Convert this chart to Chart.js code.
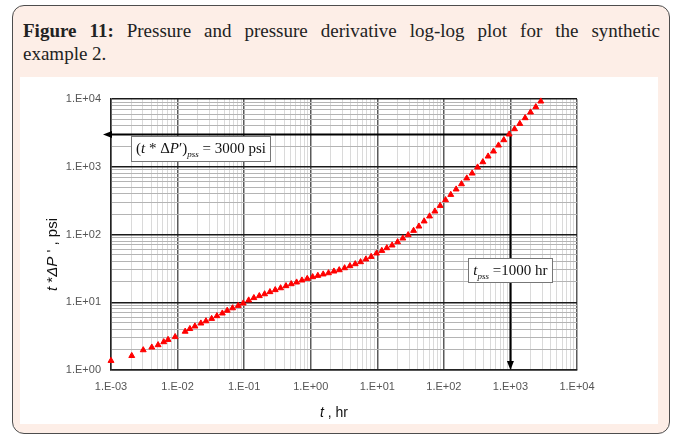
<!DOCTYPE html>
<html><head><meta charset="utf-8">
<script src="https://cdn.jsdelivr.net/npm/chart.js@4/dist/chart.umd.min.js"></script>
<style>
html,body{margin:0;padding:0;background:#fff;}
body{width:677px;height:438px;position:relative;overflow:hidden;}
#card{position:absolute;left:12px;top:5px;width:658px;height:429px;box-sizing:border-box;border:1.5px solid #4d4d4d;border-radius:12px;background:#fdeee7;}
#title{position:absolute;left:23px;top:19px;width:637px;font-family:"Liberation Serif","Times New Roman",serif;font-size:19px;line-height:23px;color:#222;}
#l1{text-align:justify;text-align-last:justify;}
#panel{position:absolute;left:20px;top:77px;width:638px;height:347px;background:#fff;}
canvas{display:block;}
</style></head>
<body>
<div id="card"></div>
<div id="title"><div id="l1"><b>Figure 11:</b> Pressure and pressure derivative log-log plot for the synthetic</div><div>example 2.</div></div>
<div id="panel"><canvas id="c" width="638" height="347" style="width:638px;height:347px"></canvas></div>
<script>
// time, hr
const tValues = [0.00100, 0.00205, 0.00305, 0.0041, 0.0051, 0.0062, 0.0072, 0.0092, 0.0130, 0.0153, 0.0182, 0.0224, 0.0267, 0.0325, 0.0390, 0.0470, 0.0557, 0.0670, 0.0815, 0.0968,
 0.117, 0.140, 0.169, 0.203, 0.244, 0.293, 0.353, 0.425, 0.510, 0.614, 0.738, 0.887, 1.07, 1.28, 1.54, 1.85, 2.23, 2.68, 3.23, 3.88, 4.66, 5.61, 6.74, 8.10,
 9.75, 11.7, 13.9, 16.7, 20.2, 24.2, 29.1, 35.1, 42.2, 50.6, 61.0, 73.3, 88.0, 106, 127, 153, 184, 221, 266, 321, 385, 462, 557,
 662, 796, 957, 1153, 1384, 1663, 2004, 2406, 2858];
// t*dP', psi
const derivValues = [1.37, 1.62, 1.97, 2.16, 2.34, 2.59, 2.80, 3.08, 3.70, 4.05, 4.42, 4.89, 5.27, 5.72, 6.27, 6.87, 7.55, 8.20, 8.90, 9.65,
 10.7, 11.6, 12.4, 13.2, 14.2, 15.2, 16.2, 17.4, 18.6, 19.7, 21.1, 22.3, 23.6, 24.7, 25.9, 27.0, 28.6, 29.9, 32.0, 34.3, 36.7, 39.3, 43.1, 47.0,
 52.8, 57.7, 63.2, 69.3, 77.5, 87.9, 98.4, 114, 132, 157, 186, 220, 266, 323, 387, 465, 556, 676, 800, 982, 1175, 1426, 1690,
 2073, 2483, 3013, 3606, 4318, 5245, 6367, 7621, 9248];
const xDecades = [1e-3, 1e-2, 1e-1, 1, 10, 100, 1000, 10000];
const xTickLabels = ['1.E-03', '1.E-02', '1.E-01', '1.E+00', '1.E+01', '1.E+02', '1.E+03', '1.E+04'];
const yDecades = [1, 10, 100, 1000, 10000];
const yTickLabels = ['1.E+00', '1.E+01', '1.E+02', '1.E+03', '1.E+04'];
const pssDerivValue = 3000;   // psi
const tPssValue = 1000;       // hr
const box1AnchorT = 0.002;
const box2AnchorV = 45;

function logTicks(decades) {
  const out = [];
  for (let i = 0; i < decades.length; i++) {
    const d = decades[i];
    out.push({ value: d, major: true });
    if (i < decades.length - 1) {
      for (let m = 2; m <= 9; m++) out.push({ value: +(d * m).toPrecision(4), major: false });
    }
  }
  return out;
}
function labelFor(decades, labels, v) {
  const k = decades.findIndex(d => Math.abs(d - v) / d < 1e-6);
  return k >= 0 ? labels[k] : '';
}
function isMajor(decades, v) { return decades.some(d => Math.abs(d - v) / d < 1e-6); }

const SERIF = '"Liberation Serif","Times New Roman",serif';
const SANS = '"Liberation Sans",Arial,sans-serif';

function drawRich(ctx, segs, x, y, align) {
  let total = 0;
  segs.forEach(s => { ctx.font = s.font; s.w = ctx.measureText(s.text).width; total += s.w; });
  let cx = align === 'center' ? x - total / 2 : x;
  segs.forEach(s => { ctx.font = s.font; ctx.fillText(s.text, cx, y + (s.dy || 0)); cx += s.w; });
  return total;
}
function richWidth(ctx, segs) {
  let total = 0;
  segs.forEach(s => { ctx.font = s.font; total += ctx.measureText(s.text).width; });
  return total;
}

const annot = {
  id: 'annot',
  beforeDatasetsDraw(chart) {
    const ctx = chart.ctx, xs = chart.scales.x, ys = chart.scales.y, ca = chart.chartArea;
    const xp = xs.getPixelForValue(tPssValue), yp = ys.getPixelForValue(pssDerivValue);
    ctx.save();
    ctx.strokeStyle = '#000'; ctx.fillStyle = '#000'; ctx.lineWidth = 2;
    ctx.beginPath(); ctx.moveTo(xp, yp); ctx.lineTo(ca.left - 1, yp); ctx.stroke();
    ctx.beginPath(); ctx.moveTo(ca.left - 8, yp); ctx.lineTo(ca.left + 1, yp - 3.5); ctx.lineTo(ca.left + 1, yp + 3.5); ctx.closePath(); ctx.fill();
    ctx.beginPath(); ctx.moveTo(xp, yp); ctx.lineTo(xp, ca.bottom - 7); ctx.stroke();
    ctx.beginPath(); ctx.moveTo(xp, ca.bottom); ctx.lineTo(xp - 3.5, ca.bottom - 9); ctx.lineTo(xp + 3.5, ca.bottom - 9); ctx.closePath(); ctx.fill();
    ctx.restore();
  },
  afterDatasetsDraw(chart) {
    const ctx = chart.ctx, xs = chart.scales.x, ys = chart.scales.y, ca = chart.chartArea;
    ctx.save();
    ctx.textBaseline = 'alphabetic';
    // box 1
    const seg1 = [
      { text: '(', font: '15px ' + SERIF },
      { text: 't', font: 'italic 15px ' + SERIF },
      { text: ' * \u0394', font: '15px ' + SERIF },
      { text: 'P', font: 'italic 15px ' + SERIF },
      { text: '\u2032)', font: '15px ' + SERIF },
      { text: 'pss', font: 'italic 9px ' + SERIF, dy: 4 },
      { text: ' = 3000 psi', font: '15px ' + SERIF }
    ];
    const w1 = richWidth(ctx, seg1) + 9;
    const b1x = xs.getPixelForValue(box1AnchorT), b1y = ys.getPixelForValue(pssDerivValue) + 2;
    ctx.fillStyle = '#fff'; ctx.fillRect(b1x, b1y, w1, 25);
    ctx.strokeStyle = '#777'; ctx.lineWidth = 1; ctx.strokeRect(Math.round(b1x) + 0.5, Math.round(b1y) + 0.5, Math.round(w1), 25);
    ctx.fillStyle = '#111';
    drawRich(ctx, seg1, b1x + 5, b1y + 17, 'left');
    // box 2
    const seg2 = [
      { text: 't', font: 'italic 15px ' + SERIF },
      { text: 'pss', font: 'italic 9px ' + SERIF, dy: 4 },
      { text: ' =1000 hr', font: '15px ' + SERIF }
    ];
    const w2 = richWidth(ctx, seg2) + 10;
    const cx2 = xs.getPixelForValue(tPssValue), b2y = ys.getPixelForValue(box2AnchorV);
    const b2x = cx2 - w2 / 2;
    ctx.fillStyle = '#fff'; ctx.fillRect(b2x, b2y, w2, 24);
    ctx.strokeStyle = '#777'; ctx.strokeRect(Math.round(b2x) + 0.5, Math.round(b2y) + 0.5, Math.round(w2), 24);
    ctx.fillStyle = '#111';
    drawRich(ctx, seg2, b2x + 5, b2y + 17, 'left');
    // axis titles
    ctx.fillStyle = '#111';
    drawRich(ctx, [
      { text: 't', font: 'italic 14px ' + SANS },
      { text: ' , hr', font: '14px ' + SANS }
    ], (ca.left + ca.right) / 2 - 10, ca.bottom + 47, 'center');
    ctx.save();
    ctx.translate(37, (ca.top + ca.bottom) / 2 + 20);
    ctx.rotate(-Math.PI / 2);
    drawRich(ctx, [
      { text: 't', font: 'italic 15px ' + SANS },
      { text: ' *', font: '15px ' + SANS },
      { text: '\u0394P', font: 'italic 15px ' + SANS },
      { text: " ' , psi", font: '15px ' + SANS }
    ], 0, 0, 'center');
    ctx.restore();
    ctx.restore();
  }
};

new Chart(document.getElementById('c'), {
  type: 'scatter',
  data: {
    datasets: [{
      data: tValues.map((t, i) => ({ x: t, y: derivValues[i] })),
      pointStyle: 'triangle',
      pointRadius: 3.4,
      pointBackgroundColor: '#ff0000',
      pointBorderColor: '#ff0000',
      pointBorderWidth: 1,
      showLine: false,
      clip: 6
    }]
  },
  options: {
    responsive: false,
    animation: false,
    devicePixelRatio: 1,
    layout: { padding: { left: 0, top: 22, right: 81, bottom: 0 } },
    plugins: { legend: { display: false }, tooltip: { enabled: false } },
    scales: {
      x: {
        type: 'logarithmic', min: 1e-3, max: 1e4,
        afterBuildTicks: s => { s.ticks = logTicks(xDecades); },
        afterFit: s => { s.height = 54; },
        ticks: {
          autoSkip: false, maxRotation: 0, padding: 10,
          color: '#555', font: { family: SANS, size: 11 },
          callback: v => labelFor(xDecades, xTickLabels, v)
        },
        grid: {
          drawTicks: false,
          color: c => isMajor(xDecades, c.tick.value) ? '#5a5a5a' : '#dadada',
          lineWidth: c => isMajor(xDecades, c.tick.value) ? 1.5 : 1
        },
        border: { display: true, color: '#222', width: 1.5 }
      },
      y: {
        type: 'logarithmic', min: 1, max: 10000,
        afterBuildTicks: s => { s.ticks = logTicks(yDecades); },
        afterFit: s => { s.width = 91; },
        ticks: {
          autoSkip: false, padding: 10,
          color: '#555', font: { family: SANS, size: 11 },
          callback: v => labelFor(yDecades, yTickLabels, v)
        },
        grid: {
          drawTicks: false,
          color: c => isMajor(yDecades, c.tick.value) ? '#1a1a1a' : '#b4b4b4',
          lineWidth: c => isMajor(yDecades, c.tick.value) ? 1.5 : 1
        },
        border: { display: true, color: '#222', width: 1.5 }
      }
    }
  },
  plugins: [annot]
});
</script>
</body></html>
